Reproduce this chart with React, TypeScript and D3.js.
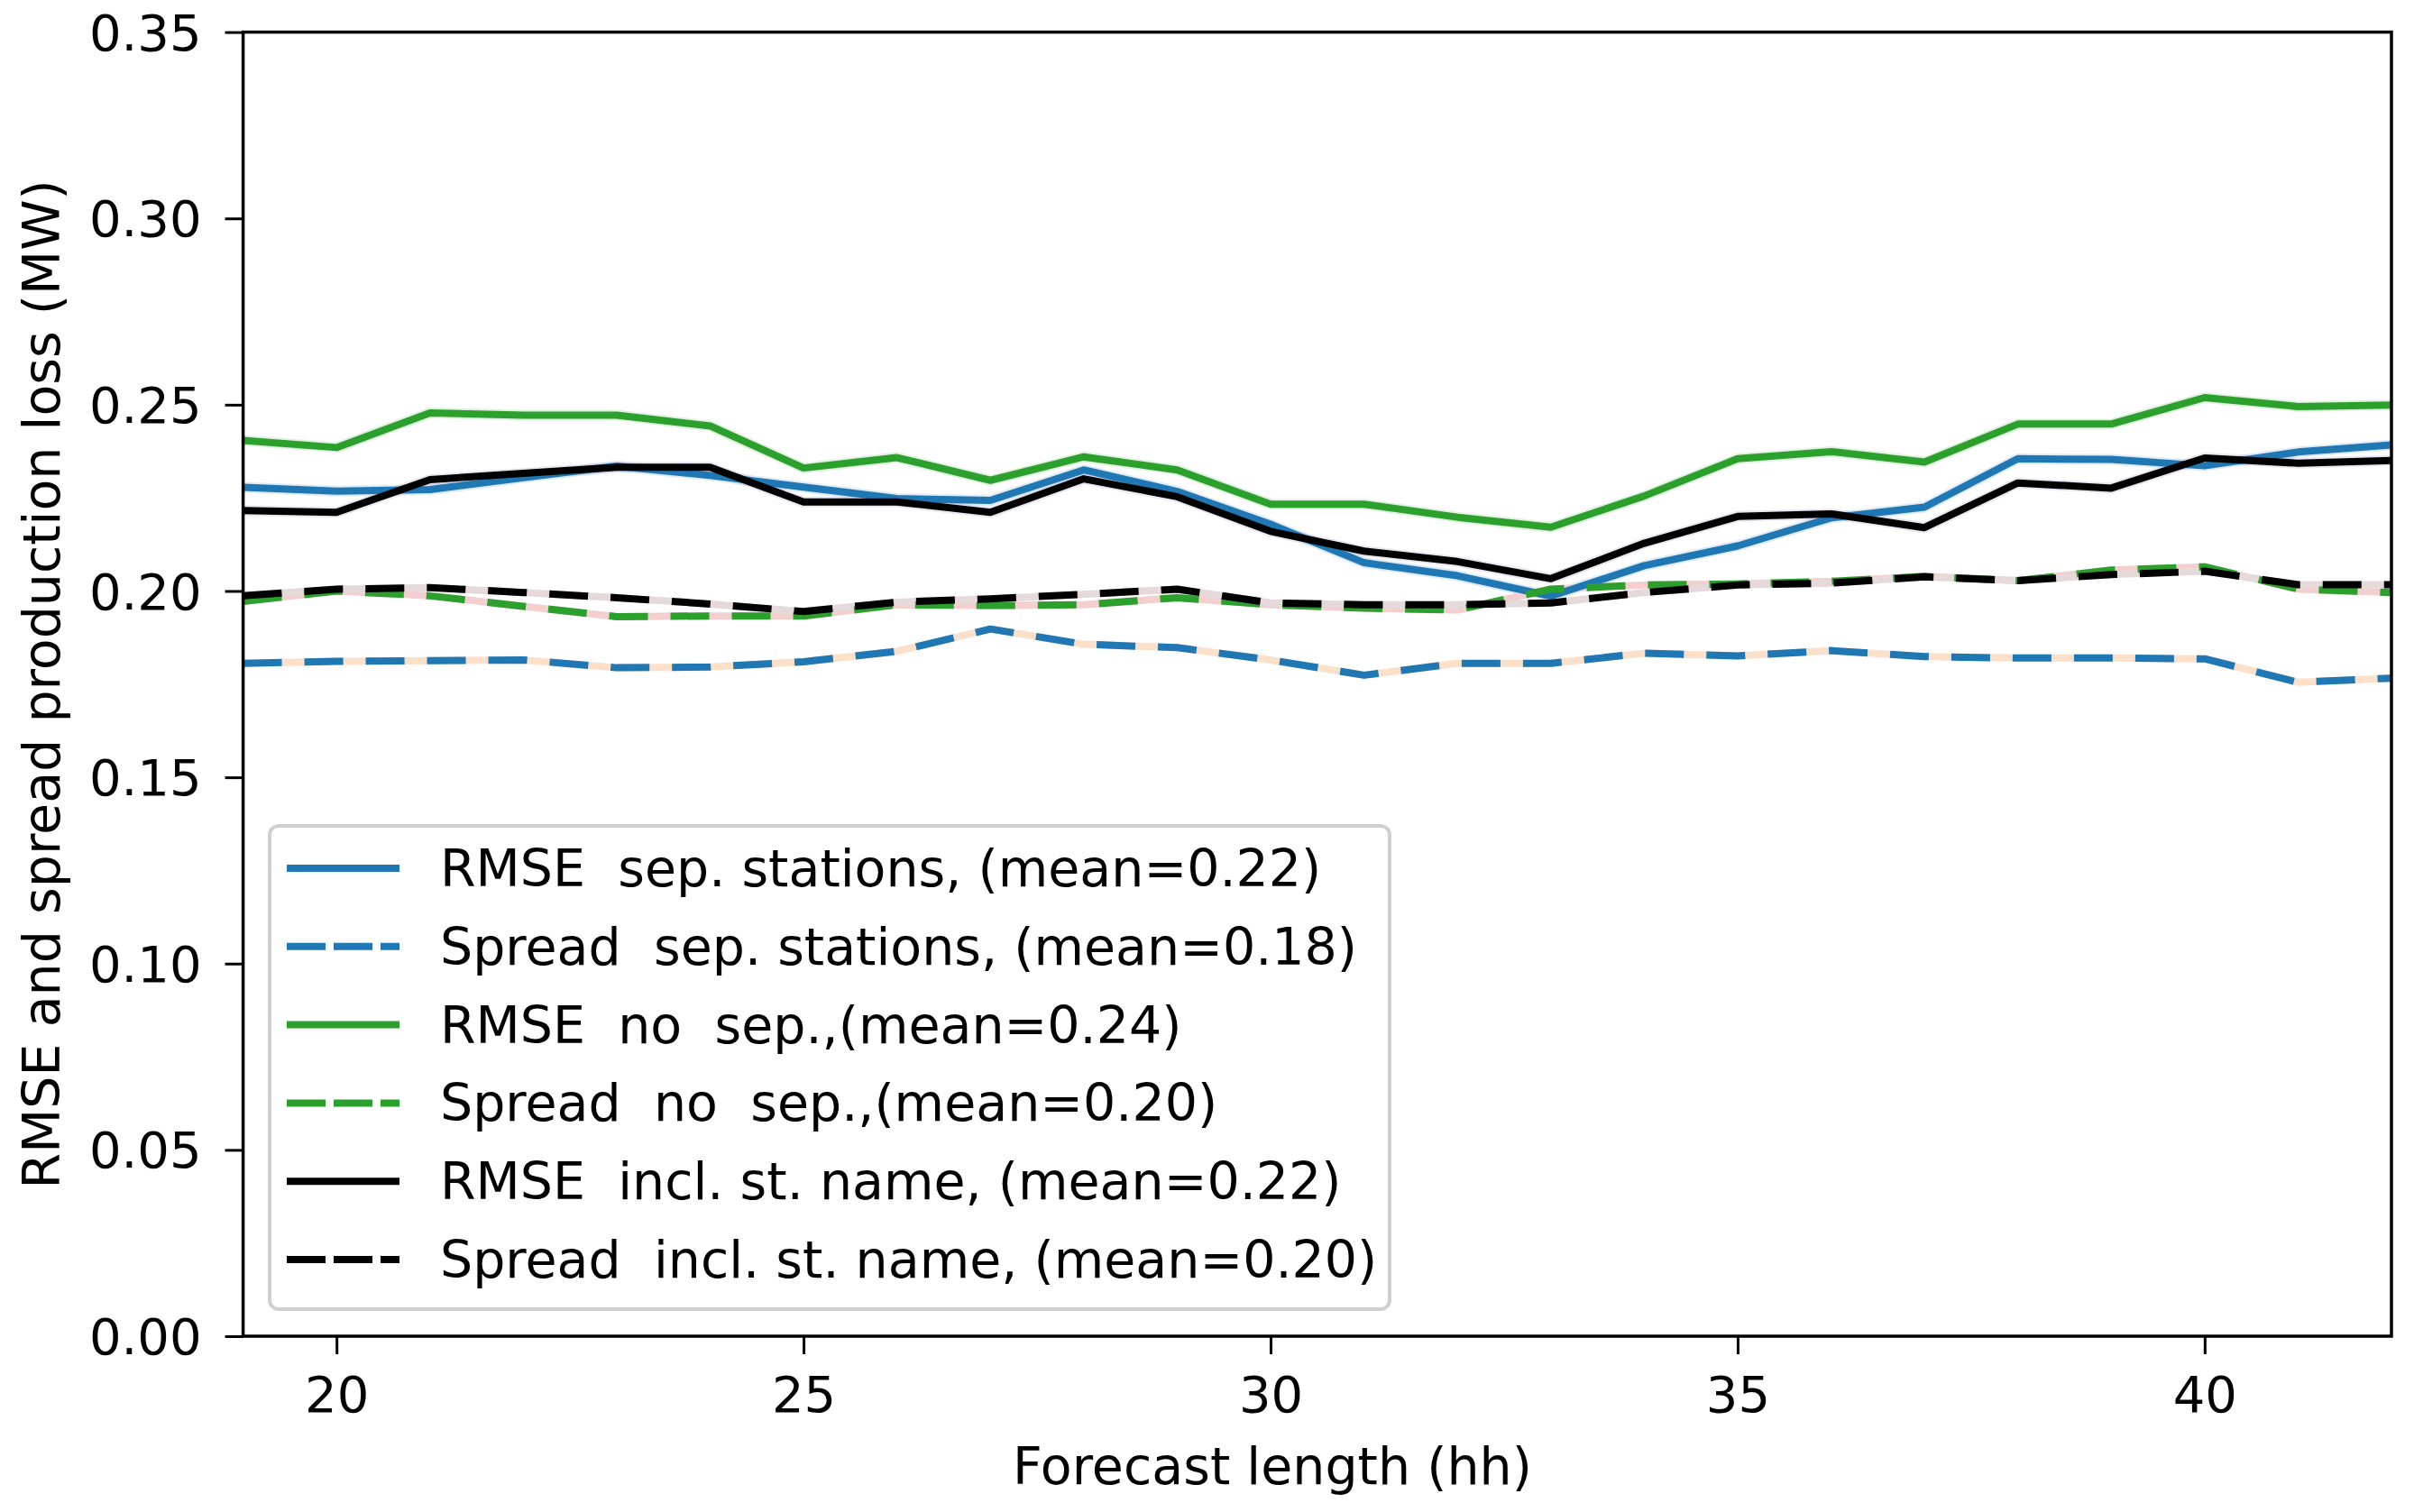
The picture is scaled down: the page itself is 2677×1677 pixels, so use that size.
import React, { useEffect, useRef } from 'react';
import * as d3 from 'd3';

// forecast hours on the x axis
const hours = [19, 20, 21, 22, 23, 24, 25, 26, 27, 28, 29, 30, 31, 32, 33, 34, 35, 36, 37, 38, 39, 40, 41, 42];

const rmseSep = [0.2278, 0.2268, 0.2272, 0.2304, 0.2335, 0.231, 0.2279, 0.2248, 0.2243, 0.2325, 0.2267, 0.2179, 0.2076, 0.2041, 0.1986, 0.2068, 0.2121, 0.2196, 0.2225, 0.2355, 0.2353, 0.2336, 0.2373, 0.2392];
const spreadSep = [0.1806, 0.1811, 0.1813, 0.1815, 0.1794, 0.1796, 0.181, 0.1838, 0.1898, 0.1857, 0.1848, 0.1815, 0.1774, 0.1806, 0.1806, 0.1833, 0.1826, 0.184, 0.1824, 0.182, 0.182, 0.1818, 0.1755, 0.1766];
const rmseNoSep = [0.2404, 0.2385, 0.2478, 0.2472, 0.2472, 0.2443, 0.233, 0.2358, 0.2297, 0.236, 0.2325, 0.2233, 0.2233, 0.2198, 0.2171, 0.2255, 0.2355, 0.2374, 0.2346, 0.2448, 0.2448, 0.2519, 0.2495, 0.2499];
const spreadNoSep = [0.1972, 0.2, 0.1987, 0.1959, 0.1931, 0.1933, 0.1933, 0.1963, 0.1961, 0.1963, 0.1982, 0.1963, 0.1954, 0.1949, 0.2005, 0.2016, 0.2019, 0.2026, 0.2039, 0.2028, 0.2056, 0.2065, 0.2005, 0.1996];
const rmseIncl = [0.2216, 0.2211, 0.2299, 0.2316, 0.2332, 0.2332, 0.2239, 0.2239, 0.2211, 0.2301, 0.2253, 0.216, 0.2107, 0.2079, 0.2033, 0.2128, 0.22, 0.2207, 0.217, 0.229, 0.2276, 0.2357, 0.2343, 0.235];
const spreadIncl = [0.1987, 0.2005, 0.2009, 0.1996, 0.1982, 0.1965, 0.1945, 0.197, 0.1979, 0.1991, 0.2005, 0.1968, 0.1963, 0.1963, 0.1968, 0.1996, 0.2016, 0.2021, 0.2038, 0.2028, 0.2044, 0.2053, 0.2017, 0.2017];

const xTicks = [20, 25, 30, 35, 40];
const yTicks = [0, 0.05, 0.1, 0.15, 0.2, 0.25, 0.3, 0.35];

const series = [
  { label: 'RMSE  sep. stations, (mean=0.22)', values: rmseSep, color: '#1f77b4', dashed: false, halo: '#1f77b4' },
  { label: 'Spread  sep. stations, (mean=0.18)', values: spreadSep, color: '#1f77b4', dashed: true, halo: '#fde0ca' },
  { label: 'RMSE  no  sep.,(mean=0.24)', values: rmseNoSep, color: '#2ca02c', dashed: false, halo: '#2ca02c' },
  { label: 'Spread  no  sep.,(mean=0.20)', values: spreadNoSep, color: '#2ca02c', dashed: true, halo: '#f3cfd0' },
  { label: 'RMSE  incl. st. name, (mean=0.22)', values: rmseIncl, color: '#000000', dashed: false, halo: '#7a5aa8' },
  { label: 'Spread  incl. st. name, (mean=0.20)', values: spreadIncl, color: '#000000', dashed: true, halo: '#e6d9d9' },
];

const W = 2677;
const H = 1677;
const FONT = 'DejaVu Sans, sans-serif';

export default function App() {
  const svgRef = useRef<SVGSVGElement>(null);

  useEffect(() => {
    if (!svgRef.current) return;
    const svg = d3.select(svgRef.current);
    svg.selectAll('*').remove();

    const margin = { top: 35.6, right: W - 2652, bottom: H - 1482, left: 269.6 };
    const width = W - margin.left - margin.right;
    const height = H - margin.top - margin.bottom;

    svg.append('rect').attr('width', W).attr('height', H).attr('fill', 'white');

    const g = svg.append('g').attr('transform', `translate(${margin.left},${margin.top})`);

    const x = d3.scaleLinear().domain([19, 42]).range([0, width]);
    const y = d3.scaleLinear().domain([0, 0.35]).range([height, 0]);

    const line = d3.line<number>()
      .x((_, i) => x(hours[i]))
      .y(d => y(d));

    // pale bands under the lines
    series.forEach(s => {
      g.append('path')
        .attr('d', line(s.values))
        .attr('fill', 'none')
        .attr('stroke', s.halo)
        .attr('stroke-opacity', s.dashed ? 1 : 0.15)
        .attr('stroke-width', s.dashed ? 8 : 12)
        .attr('stroke-linejoin', 'round');
    });

    series.forEach(s => {
      g.append('path')
        .attr('d', line(s.values))
        .attr('fill', 'none')
        .attr('stroke', s.color)
        .attr('stroke-width', 8)
        .attr('stroke-dasharray', s.dashed ? '43,25' : null)
        .attr('stroke-linejoin', 'round');
    });

    // axes
    const xAxis = g.append('g')
      .attr('transform', `translate(0,${height})`)
      .call(d3.axisBottom(x).tickValues(xTicks).tickSize(20).tickSizeOuter(0).tickPadding(24));
    const yAxis = g.append('g')
      .call(d3.axisLeft(y).tickValues(yTicks).tickSize(20).tickSizeOuter(0).tickPadding(26).tickFormat(d3.format('.2f')));

    [xAxis, yAxis].forEach(a => {
      a.select('.domain').remove();
      a.selectAll('.tick line').attr('stroke', '#000').attr('stroke-width', 3);
      a.selectAll('.tick text')
        .attr('fill', '#000')
        .style('font-family', FONT)
        .style('font-size', '56px');
    });
    yAxis.selectAll('.tick text').attr('dy', '0.35em');
    xAxis.selectAll('.tick text').attr('dy', '0.71em');

    // frame
    g.append('rect')
      .attr('width', width)
      .attr('height', height)
      .attr('fill', 'none')
      .attr('stroke', '#000')
      .attr('stroke-width', 3.5);

    // axis labels
    svg.append('text')
      .attr('x', 1411)
      .attr('y', 1646)
      .attr('text-anchor', 'middle')
      .style('font-family', FONT)
      .style('font-size', '57px')
      .text('Forecast length (hh)');

    svg.append('text')
      .attr('transform', `translate(66,${margin.top + height / 2}) rotate(-90)`)
      .attr('text-anchor', 'middle')
      .style('font-family', FONT)
      .style('font-size', '57px')
      .text('RMSE and spread production loss (MW)');

    // legend
    const lg = svg.append('g');
    lg.append('rect')
      .attr('x', 299)
      .attr('y', 916)
      .attr('width', 1541 - 299)
      .attr('height', 1452 - 916)
      .attr('rx', 10)
      .attr('fill', 'white')
      .attr('fill-opacity', 0.85)
      .attr('stroke', '#d0d0d0')
      .attr('stroke-width', 4);

    const rowY = d3.scaleLinear().domain([0, 5]).range([963, 1397]);
    series.forEach((s, i) => {
      const yy = rowY(i);
      lg.append('line')
        .attr('x1', 318)
        .attr('x2', 443)
        .attr('y1', yy)
        .attr('y2', yy)
        .attr('stroke', s.color)
        .attr('stroke-width', 8)
        .attr('stroke-dasharray', s.dashed ? '43,9' : null);
      lg.append('text')
        .attr('x', 488)
        .attr('y', yy)
        .attr('dy', '0.35em')
        .attr('xml:space', 'preserve')
        .style('white-space', 'pre')
        .style('font-family', FONT)
        .style('font-size', '57px')
        .text(s.label);
    });
  }, []);

  return (
    <svg
      ref={svgRef}
      width={W}
      height={H}
      style={{ position: 'absolute', left: 0, top: 0, display: 'block' }}
    />
  );
}
